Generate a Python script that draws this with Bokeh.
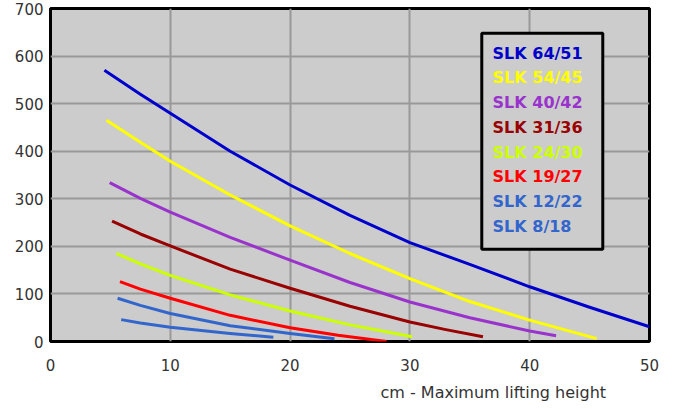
from bokeh.plotting import figure
from bokeh.models import Range1d, FixedTicker, BoxAnnotation, Label, Title
from bokeh.embed import file_html
from bokeh.resources import INLINE

# ---- data ----
names = ["SLK 64/51", "SLK 54/45", "SLK 40/42", "SLK 31/36",
         "SLK 24/30", "SLK 19/27", "SLK 12/22", "SLK 8/18"]
colors = ["#0000CC", "#FFFF00", "#9933CC", "#990000",
          "#CCFF00", "#FF0000", "#3366CC", "#3366CC"]

x_64 = [4.5, 7.5, 10, 15, 20, 25, 30, 35, 40, 45, 50]
y_64 = [570, 520, 480, 400, 329, 265, 208, 162, 115, 72, 31]

x_54 = [4.67, 7.5, 10, 15, 20, 25, 30, 35, 40, 45.6]
y_54 = [465, 419, 379, 308, 243, 185, 132, 84, 45, 6]

x_40 = [4.94, 7.5, 10, 15, 20, 25, 30, 35, 40, 42.2]
y_40 = [334, 301, 272, 219, 171, 124, 83, 50, 22, 12]

x_31 = [5.14, 7.5, 10, 15, 20, 25, 30, 33, 36.1]
y_31 = [253, 226, 201, 152, 112, 74, 41, 25, 10]

x_24 = [5.5, 7.5, 10, 15, 20, 25, 30.2]
y_24 = [185, 163, 139, 98, 64, 35, 10]

x_19 = [5.8, 7.5, 10, 15, 20, 24, 28.05]
y_19 = [126, 110, 91, 55, 29, 13, 0]

x_12 = [5.6, 7.5, 10, 15, 20, 23.7]
y_12 = [91, 76, 59, 33, 17, 6]

x_8 = [5.9, 7.5, 10, 15, 18.6]
y_8 = [46, 39, 30, 17, 9]

series_x = [x_64, x_54, x_40, x_31, x_24, x_19, x_12, x_8]
series_y = [y_64, y_54, y_40, y_31, y_24, y_19, y_12, y_8]

x_ticks = [0, 10, 20, 30, 40, 50]
y_ticks = [0, 100, 200, 300, 400, 500, 600, 700]
x_title = "cm - Maximum lifting height"

FONT = "DejaVu Sans"

p = figure(width=665, height=409, output_backend="svg", toolbar_location=None,
           x_range=Range1d(0, 50), y_range=Range1d(0, 700),
           min_border_left=50, min_border_right=16, min_border_top=8,
           min_border_bottom=66)
p.background_fill_color = "#CCCCCC"
p.border_fill_color = "white"
p.outline_line_color = "black"
p.outline_line_width = 3

for ax in (p.xaxis, p.yaxis):
    ax.axis_line_color = None
    ax.major_tick_line_color = None
    ax.minor_tick_line_color = None
    ax.major_tick_out = 0
    ax.major_tick_in = 0
    ax.major_label_text_font = FONT
    ax.major_label_text_font_size = "15px"
    ax.major_label_text_color = "#333333"
p.xaxis.ticker = FixedTicker(ticks=x_ticks)
p.yaxis.ticker = FixedTicker(ticks=y_ticks)
p.xaxis.major_label_standoff = 17
p.yaxis.major_label_standoff = 7

p.grid.grid_line_color = "#999999"
p.grid.grid_line_width = 2
p.xgrid.ticker = FixedTicker(ticks=x_ticks)
p.ygrid.ticker = FixedTicker(ticks=y_ticks)

for xs, ys, c in zip(series_x, series_y, colors):
    p.line(xs, ys, line_color=c, line_width=3, line_join="round")

# legend box
box = BoxAnnotation(left=36.0, right=46.1, top=648, bottom=194,
                    fill_color="#CCCCCC", fill_alpha=1.0,
                    line_color="black", line_width=3, line_alpha=1.0)
p.add_layout(box)
for i, (n, c) in enumerate(zip(names, colors)):
    p.add_layout(Label(x=36.9, y=606 - i * 52, text=n, text_color=c,
                       text_font=FONT, text_font_style="bold",
                       text_font_size="16px", text_baseline="middle",
                       text_align="left"))

# axis title (placed below the axis, toward the right)
p.add_layout(Title(text=x_title, align="left", offset=330, standoff=15,
                   text_color="#333333", text_font=FONT,
                   text_font_style="normal", text_font_size="16px"), "below")

open("out.html", "w").write(file_html(p, INLINE))
